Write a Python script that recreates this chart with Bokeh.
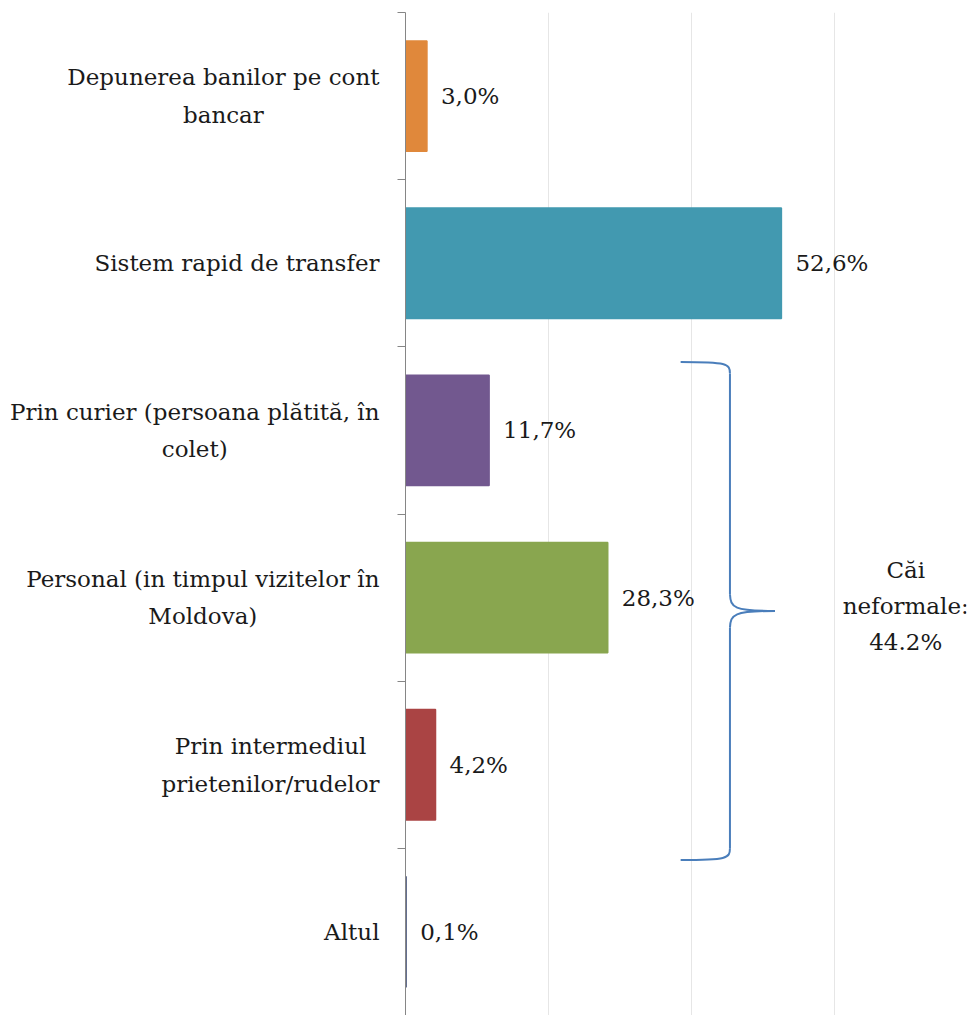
from bokeh.plotting import figure
from bokeh.models import Range1d, FixedTicker, LinearAxis, Grid, ColumnDataSource
from bokeh.core.properties import value
from bokeh.embed import file_html
from bokeh.resources import INLINE

categories = [
    "Depunerea banilor pe cont\nbancar",
    "Sistem rapid de transfer",
    "Prin curier (persoana plătită, în\ncolet)",
    "Personal (in timpul vizitelor în\nMoldova)",
    "Prin intermediul\nprietenilor/rudelor",
    "Altul",
]
values = [3.0, 52.6, 11.7, 28.3, 4.2, 0.1]
value_labels = ["3,0%", "52,6%", "11,7%", "28,3%", "4,2%", "0,1%"]
colors = ["#E0883B", "#4299B0", "#72588F", "#89A64F", "#AA4444", "#5E6A8C"]
grid_ticks = [20, 40, 60]
group_first, group_last = 2, 4
group_label = "Căi\nneformale:\n44.2%"

FONT = value("DejaVu Serif")
FS = "23px"

idx = list(range(len(categories)))
src = ColumnDataSource(dict(y=idx, v=values, lab=value_labels, c=colors,
                            cat=categories, zero=[0] * len(idx)))

p = figure(width=970, height=1015, output_backend="svg", toolbar_location=None,
           x_range=Range1d(0, 78.5), y_range=Range1d(len(categories) - 0.5, -0.5),
           x_axis_location=None, y_axis_location=None,
           min_border_left=405, min_border_right=4, min_border_top=12, min_border_bottom=0)
p.outline_line_color = None
p.background_fill_color = "white"
for g in p.grid:
    g.visible = False

p.add_layout(Grid(dimension=0, ticker=FixedTicker(ticks=grid_ticks),
                  grid_line_color="#E6E6E6", grid_line_width=1))

yax = LinearAxis(ticker=FixedTicker(ticks=idx, minor_ticks=[i - 0.5 for i in idx] + [idx[-1] + 0.5]))
yax.major_label_overrides = {i: "" for i in idx}
yax.major_tick_out = 0
yax.major_tick_in = 0
yax.minor_tick_out = 8
yax.minor_tick_in = 0
yax.minor_tick_line_color = "#868686"
yax.axis_line_color = "#868686"
p.add_layout(yax, "left")

# category labels: block right-aligned next to the axis, lines centred
p.text(x="zero", y="y", text="cat", x_offset=-26, anchor="center_right", text_align="center",
       text_baseline="middle", text_font=FONT, text_font_size=FS, text_color="#1a1a1a",
       text_line_height=1.45, source=src, level="overlay")

p.hbar(y="y", right="v", left=0, height=0.66, fill_color="c", line_color="c",
       line_width=1.5, source=src)
p.text(x="v", y="y", text="lab", x_offset=14, text_baseline="middle", text_align="left",
       text_font=FONT, text_font_size=FS, text_color="#1a1a1a", source=src)

# curly brace around the informal channels
bx_tip, bx_spine, bx_point = 38.5, 45.4, 51.7
y_top = group_first - 0.5 + 0.09
y_bot = group_last + 0.5 + 0.07
y_mid = (y_top + y_bot) / 2
bc = "#4A7EBB"
p.bezier(x0=[bx_tip, bx_spine, bx_point, bx_spine],
         y0=[y_top, y_mid - 0.1, y_mid, y_bot - 0.07],
         x1=[bx_spine, bx_point, bx_spine, bx_tip],
         y1=[y_top + 0.07, y_mid, y_mid + 0.1, y_bot],
         cx0=[bx_spine - 0.4, bx_spine + 0.1, bx_spine + 0.5, bx_spine],
         cy0=[y_top, y_mid - 0.02, y_mid, y_bot - 0.01],
         cx1=[bx_spine, bx_spine + 0.5, bx_spine + 0.1, bx_spine - 0.4],
         cy1=[y_top + 0.01, y_mid, y_mid + 0.02, y_bot],
         line_color=bc, line_width=2)
p.segment(x0=[bx_spine, bx_spine], y0=[y_top + 0.07, y_mid + 0.1],
          x1=[bx_spine, bx_spine], y1=[y_mid - 0.1, y_bot - 0.07],
          line_color=bc, line_width=2)
p.text(x=[70.0], y=[y_mid - 0.03], text=[group_label], text_align="center", text_baseline="middle",
       text_font=FONT, text_font_size=FS, text_color="#1a1a1a", text_line_height=1.4)

open("out.html", "w").write(file_html(p, INLINE))
